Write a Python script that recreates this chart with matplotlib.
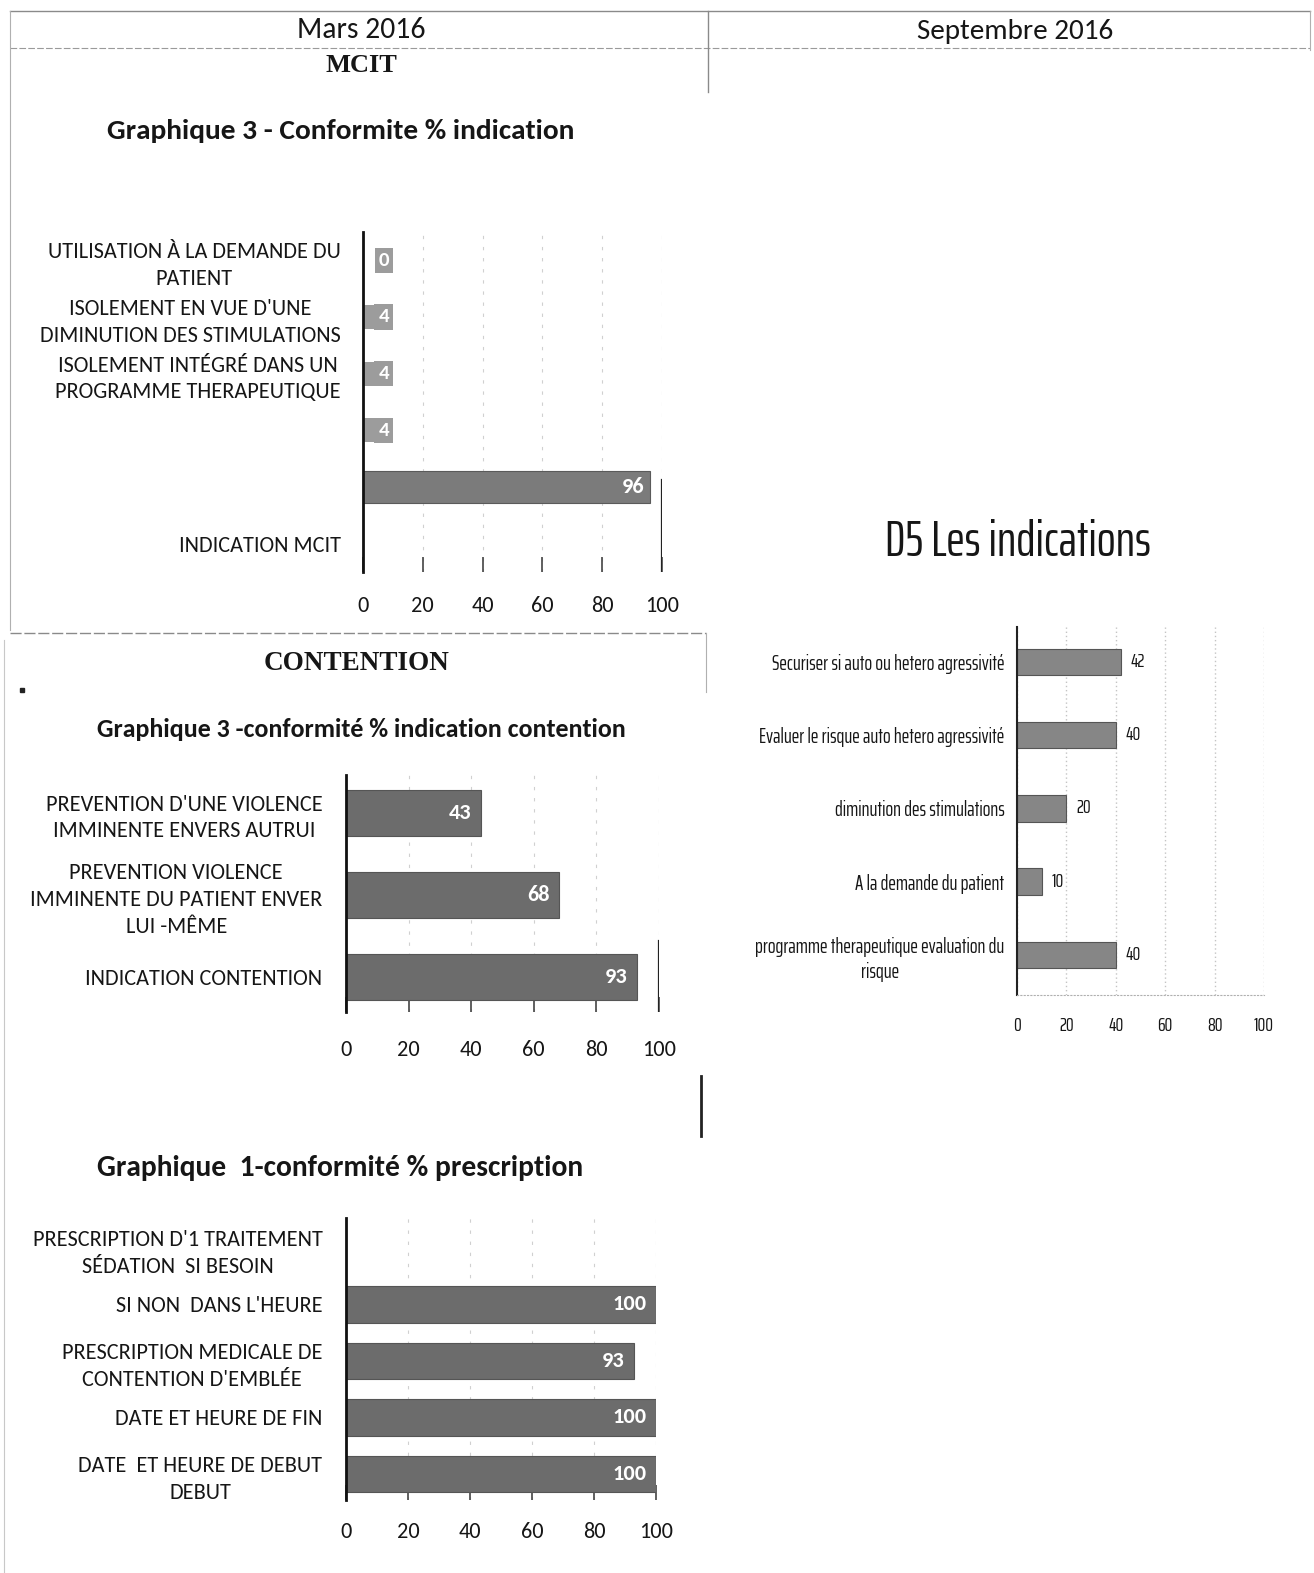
import numpy as np
import matplotlib
matplotlib.use("Agg")
import matplotlib.pyplot as plt
from matplotlib.lines import Line2D

W, H = 1314, 1573
SANS = ["Carlito", "Lato", "DejaVu Sans"]
NARROW = ["Saira ExtraCondensed", "Barlow Condensed", "DejaVu Sans"]
SERIF = ["Liberation Serif", "DejaVu Serif"]
INK = "#161616"

# ---- MCIT (mars 2016)
mcit_labels = ["UTILISATION À LA DEMANDE DU\nPATIENT",
               "ISOLEMENT EN VUE D'UNE\nDIMINUTION DES STIMULATIONS",
               "ISOLEMENT INTÉGRÉ DANS UN\nPROGRAMME THERAPEUTIQUE",
               "", "", "INDICATION MCIT"]
mcit_values = [0, 4, 4, 4, 96]

# ---- contention (mars 2016)
cont_labels = ["PREVENTION D'UNE VIOLENCE\nIMMINENTE ENVERS AUTRUI",
               "PREVENTION VIOLENCE\nIMMINENTE DU PATIENT ENVER\nLUI -MÊME",
               "INDICATION CONTENTION"]
cont_values = [43, 68, 93]

# ---- prescription (mars 2016)
presc_labels = ["PRESCRIPTION D'1 TRAITEMENT\nSÉDATION  SI BESOIN",
                "SI NON  DANS L'HEURE",
                "PRESCRIPTION MEDICALE DE\nCONTENTION D'EMBLÉE",
                "DATE ET HEURE DE FIN",
                "DATE  ET HEURE DE DEBUT\nDEBUT"]
presc_values = [None, 100, 93, 100, 100]

# ---- D5 les indications (septembre 2016)
d5_labels = ["Securiser si auto ou hetero agressivité",
             "Evaluer le risque auto hetero agressivité",
             "diminution des stimulations",
             "A la demande du patient",
             "programme therapeutique evaluation du\nrisque"]
d5_values = [42, 40, 20, 10, 40]

xticks = [0, 20, 40, 60, 80, 100]


def box(x0, y0, x1, y1):
    return [x0 / W, 1 - y1 / H, (x1 - x0) / W, (y1 - y0) / H]


def line(x0, y0, x1, y1, **kw):
    fig.add_artist(Line2D([x0 / W, x1 / W], [1 - y0 / H, 1 - y1 / H],
                          transform=fig.transFigure, **kw))


def put(x, y, s, **kw):
    fig.text(x / W, 1 - y / H, s, ha="center", va="center", color=INK, **kw)


def excel_axes(ax, labels, ylim, lab_pad, x_pad, fs=16):
    ax.set_xlim(0, 100)
    ax.set_ylim(*ylim)
    ax.set_yticks(range(len(labels)))
    ax.set_yticklabels(labels, fontsize=fs, family=SANS, color=INK,
                       multialignment="center", linespacing=1.42)
    ax.tick_params(axis="y", length=0, pad=lab_pad)
    ax.set_xticks(xticks)
    ax.set_xticklabels([str(t) for t in xticks], fontsize=16, family=SANS,
                       color=INK)
    ax.tick_params(axis="x", direction="in", length=11, width=1.2,
                   color="#444444", pad=x_pad)
    for s in ["top", "right", "bottom"]:
        ax.spines[s].set_visible(False)
    ax.spines["left"].set_linewidth(2)
    ax.spines["left"].set_color("#111111")
    ax.grid(axis="x", color="#d0d0d0", linestyle=(0, (3, 7)), lw=0.8)
    ax.set_axisbelow(True)
    ax.patch.set_alpha(0)


fig = plt.figure(figsize=(W / 100, H / 100), dpi=100)

# table lines of the page
grey = "#8a8a8a"
line(10, 11, 1310, 11, color=grey, lw=1)
line(10, 48, 1310, 48, color="#9a9a9a", lw=0.8, ls=(0, (6, 2)))
line(708, 11, 708, 92, color=grey, lw=1)
line(10, 11, 10, 630, color="#b0b0b0", lw=0.8)
line(1310, 11, 1310, 50, color="#b0b0b0", lw=0.8)
line(10, 633, 706, 633, color=grey, lw=1, ls=(0, (8, 2)))
line(706, 633, 706, 692, color="#b0b0b0", lw=0.8)
line(4, 640, 4, 1573, color="#c8c8c8", lw=0.8)
line(701, 1076, 701, 1136, color="#222222", lw=2)
fig.add_artist(Line2D([22 / W], [1 - 690 / H], marker="s", ms=2.5,
                      color="#222222", transform=fig.transFigure))

put(361, 30, "Mars 2016", fontsize=21.3, family=SANS)
put(1015, 31, "Septembre 2016", fontsize=21, family=SANS)
put(361, 65, "MCIT", fontsize=19, family=SERIF, weight="bold")
put(341, 131, "Graphique 3 - Conformite % indication", fontsize=21.2,
    family=SANS, weight="bold")
put(357, 664, "CONTENTION", fontsize=19.5, family=SERIF, weight="bold")
put(361, 729, "Graphique 3 -conformité % indication contention", fontsize=18.7,
    family=SANS, weight="bold")
put(340, 1168, "Graphique  1-conformité % prescription", fontsize=21.3,
    family=SANS, weight="bold")
put(1018, 543, "D5 Les indications", fontsize=36, family=NARROW)

# MCIT chart
ax1 = fig.add_axes(box(363, 232, 662, 572))
excel_axes(ax1, mcit_labels, (5.5, -0.5), 16, 17)
pos = np.arange(len(mcit_values))
ax1.barh(pos[:4], mcit_values[:4], height=0.42, color="#9c9c9c")
ax1.barh(pos[4], mcit_values[4], height=0.58, color="#7b7b7b",
         edgecolor="#5a5a5a", lw=0.8)
for p, v in zip(pos, mcit_values):
    if v < 20:
        ax1.text(7, p, str(v), ha="center", va="center", fontsize=15,
                 family=SANS, weight="bold", color="white",
                 bbox=dict(boxstyle="square,pad=0.2", fc="#9c9c9c", ec="none"))
    else:
        ax1.text(v - 2, p, str(v), ha="right", va="center", fontsize=16,
                 family=SANS, weight="bold", color="white")
ax1.axvline(100, ymin=0, ymax=0.27, color="#222222", lw=1.6)

# contention chart
ax2 = fig.add_axes(box(346, 775, 659, 1012))
excel_axes(ax2, cont_labels, (2.43, -0.46), 17, 20)
ax2.barh(range(len(cont_values)), cont_values, height=0.56, color="#6c6c6c",
         edgecolor="#555555", lw=0.8)
for p, v in enumerate(cont_values):
    ax2.text(v - 3, p, str(v), ha="right", va="center", fontsize=16,
             family=SANS, weight="bold", color="white")
ax2.axvline(100, ymin=0, ymax=0.3, color="#222222", lw=1.6)

# prescription chart
ax3 = fig.add_axes(box(346, 1218, 656, 1500))
excel_axes(ax3, presc_labels, (4.46, -0.53), 17, 16)
ax3.barh(range(len(presc_values)), [v or 0 for v in presc_values],
         height=0.65, color="#6c6c6c", edgecolor="#555555", lw=0.8)
for p, v in enumerate(presc_values):
    if v is not None:
        ax3.text(v - 3, p, str(v), ha="right", va="center", fontsize=16,
                 family=SANS, weight="bold", color="white")

# D5 chart
ax4 = fig.add_axes(box(1017, 627, 1264, 995))
ax4.set_xlim(0, 100)
ax4.set_ylim(4.55, -0.48)
ax4.barh(range(len(d5_values)), d5_values, height=0.36, color="#868686",
         edgecolor="#555555", lw=0.8)
for p, v in enumerate(d5_values):
    ax4.text(v + 4, p, str(v), ha="left", va="center", fontsize=14,
             family=NARROW, color=INK)
ax4.set_yticks(range(len(d5_labels)))
ax4.set_yticklabels(d5_labels, fontsize=14.7, family=NARROW, color=INK,
                    multialignment="center", linespacing=1.3)
ax4.tick_params(axis="y", length=0, pad=9)
ax4.set_xticks(xticks)
ax4.set_xticklabels([str(t) for t in xticks], fontsize=14, family=NARROW,
                    color=INK)
ax4.tick_params(axis="x", length=0, pad=16)
ax4.grid(axis="x", color="#c4c4c4", linestyle=(0, (1, 2)), lw=1)
ax4.set_axisbelow(True)
for s in ["top", "right"]:
    ax4.spines[s].set_visible(False)
ax4.spines["bottom"].set_color("#b0b0b0")
ax4.spines["bottom"].set_linestyle((0, (1, 2)))
ax4.spines["left"].set_color("#222222")
ax4.spines["left"].set_linewidth(1.5)
ax4.patch.set_alpha(0)

fig.savefig("out.png", dpi=100)
